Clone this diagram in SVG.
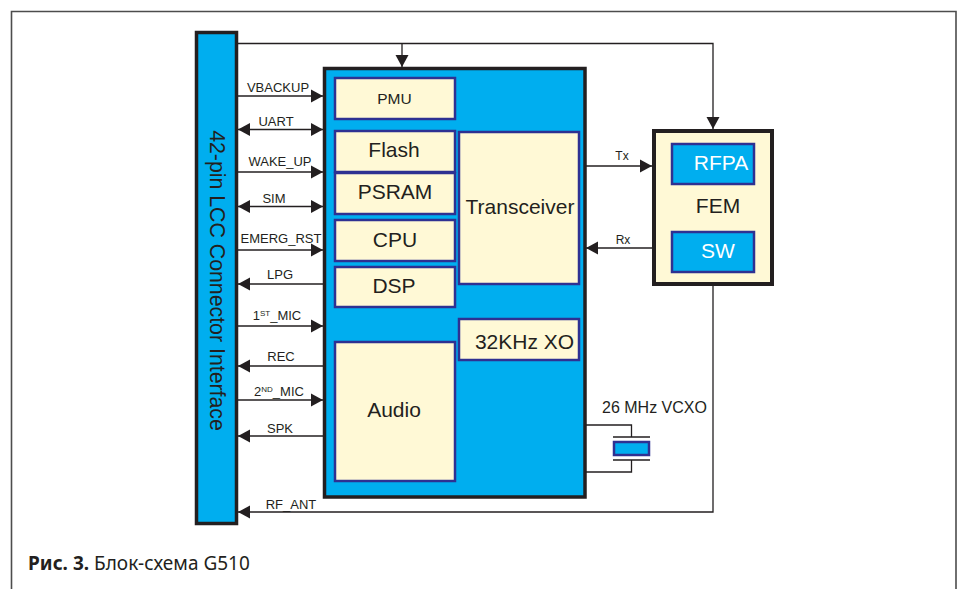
<svg xmlns="http://www.w3.org/2000/svg" width="965" height="589" viewBox="0 0 965 589">
<defs>
<marker id="end" markerUnits="userSpaceOnUse" markerWidth="13" markerHeight="14" refX="12" refY="7" orient="auto"><path d="M0 0.5L12 7L0 13.5Z" fill="#231f20"/></marker>
<marker id="start" markerUnits="userSpaceOnUse" markerWidth="13" markerHeight="14" refX="0" refY="7" orient="auto"><path d="M12 0.5L0 7L12 13.5Z" fill="#231f20"/></marker>
</defs>
<style>
text{font-family:"Liberation Sans",Arial,sans-serif;fill:#231f20}
.blk{stroke:#231f20;stroke-width:3.5;fill:#00aeef}
.in{stroke:#2e3192;stroke-width:2.5;fill:#fff9d6}
.inb{stroke:#2e3192;stroke-width:2.5;fill:#00aeef}
.c line,.c path{stroke:#231f20;stroke-width:1.3;fill:none}
.s{font-size:13px;text-anchor:middle}
.m{font-size:21px;text-anchor:middle}
.e{marker-end:url(#end)}
.b{marker-start:url(#start)}
</style>
<rect width="965" height="589" fill="#fff"/>
<path id="frame" d="M11.500 589V11.500H956V589" fill="none" stroke="#4d4d4d" stroke-width="1.600"/>

<g id="connectors" class="c">
<path class="e" d="M238 43.500H713V129"/>
<line class="e" x1="402" y1="43.500" x2="402" y2="67"/>
<line class="e" x1="238" y1="96" x2="323" y2="96"/>
<line class="e b" x1="238" y1="129.500" x2="323" y2="129.500"/>
<line class="e" x1="238" y1="172" x2="323" y2="172"/>
<line class="e b" x1="238" y1="206.500" x2="323" y2="206.500"/>
<line class="e" x1="238" y1="250" x2="323" y2="250"/>
<line class="b" x1="238" y1="284" x2="323" y2="284"/>
<line class="e" x1="238" y1="326" x2="323" y2="326"/>
<line class="b" x1="238" y1="366" x2="323" y2="366"/>
<line class="e" x1="238" y1="400" x2="323" y2="400"/>
<line class="b" x1="238" y1="436" x2="323" y2="436"/>
<line class="e" x1="586" y1="166" x2="652" y2="166"/>
<line class="b" x1="586" y1="248" x2="652" y2="248"/>
<path class="b" d="M238 512H713V286"/>
<path d="M586 425H631.500V437M586 472H631.500V460"/>
<path d="M613 437H650M613 460H650"/>
</g>

<g id="connector-labels">
<text class="s" x="278" y="92">VBACKUP</text>
<text class="s" x="276" y="126">UART</text>
<text class="s" x="280" y="166">WAKE_UP</text>
<text class="s" x="274" y="203">SIM</text>
<text class="s" x="281" y="243">EMERG_RST</text>
<text class="s" x="280" y="279">LPG</text>
<text class="s" x="277" y="320">1<tspan font-size="8" dy="-4">ST</tspan><tspan dy="4">_MIC</tspan></text>
<text class="s" x="281" y="361">REC</text>
<text class="s" x="279" y="396">2<tspan font-size="8" dy="-4">ND</tspan><tspan dy="4">_MIC</tspan></text>
<text class="s" x="280" y="433">SPK</text>
<text class="s" x="291" y="509">RF_ANT</text>
<text class="s" x="622" y="160" style="font-size:12px">Tx</text>
<text class="s" x="623" y="244" style="font-size:12px">Rx</text>
</g>

<g id="connector-interface"><rect class="blk" x="196.500" y="32.500" width="40" height="491"/>
<text transform="translate(210 280.500) rotate(90)" text-anchor="middle" font-size="21.300">42-pin LCC Connector Interface</text></g>

<g id="main"><rect class="blk" x="324.500" y="68.500" width="260.500" height="428.500"/></g>
<g id="pmu"><rect class="in" x="335" y="78" width="120" height="41"/><text x="394.500" y="104" text-anchor="middle" font-size="15.500">PMU</text></g>
<g id="flash"><rect class="in" x="335" y="131" width="120" height="41"/><text class="m" x="394" y="156.500">Flash</text></g>
<g id="psram"><rect class="in" x="335" y="173" width="120" height="41"/><text class="m" x="395" y="199">PSRAM</text></g>
<g id="cpu"><rect class="in" x="335" y="220" width="120" height="41"/><text class="m" x="395" y="246.500">CPU</text></g>
<g id="dsp"><rect class="in" x="335" y="267" width="120" height="40"/><text class="m" x="394" y="292.500">DSP</text></g>
<g id="audio"><rect class="in" x="335" y="342" width="120" height="139"/><text class="m" x="394" y="417">Audio</text></g>
<g id="transceiver"><rect class="in" x="459" y="132" width="120" height="152"/><text class="m" x="520" y="214">Transceiver</text></g>
<g id="xo32"><rect class="in" x="459" y="319" width="120" height="41"/><text class="m" x="524.500" y="349">32KHz XO</text></g>

<g id="fem"><rect x="654" y="131" width="118" height="153" fill="#fff9d6" stroke="#231f20" stroke-width="4"/><text class="m" x="718" y="212.500">FEM</text></g>
<g id="rfpa"><rect class="inb" x="672" y="144" width="82" height="40"/><text class="m" x="721" y="170" style="fill:#fff">RFPA</text></g>
<g id="sw"><rect class="inb" x="672" y="232" width="82" height="40"/><text class="m" x="718" y="258" style="fill:#fff">SW</text></g>

<g id="vcxo"><rect class="inb" x="614" y="442" width="35" height="13"/><text x="654.500" y="413" text-anchor="middle" font-size="16">26 MHz VCXO</text></g>

<text id="caption" x="28" y="570" font-size="19" style="font-family:'Noto Sans',sans-serif"><tspan font-weight="700">Рис. 3.</tspan> Блок-схема G510</text>
</svg>
